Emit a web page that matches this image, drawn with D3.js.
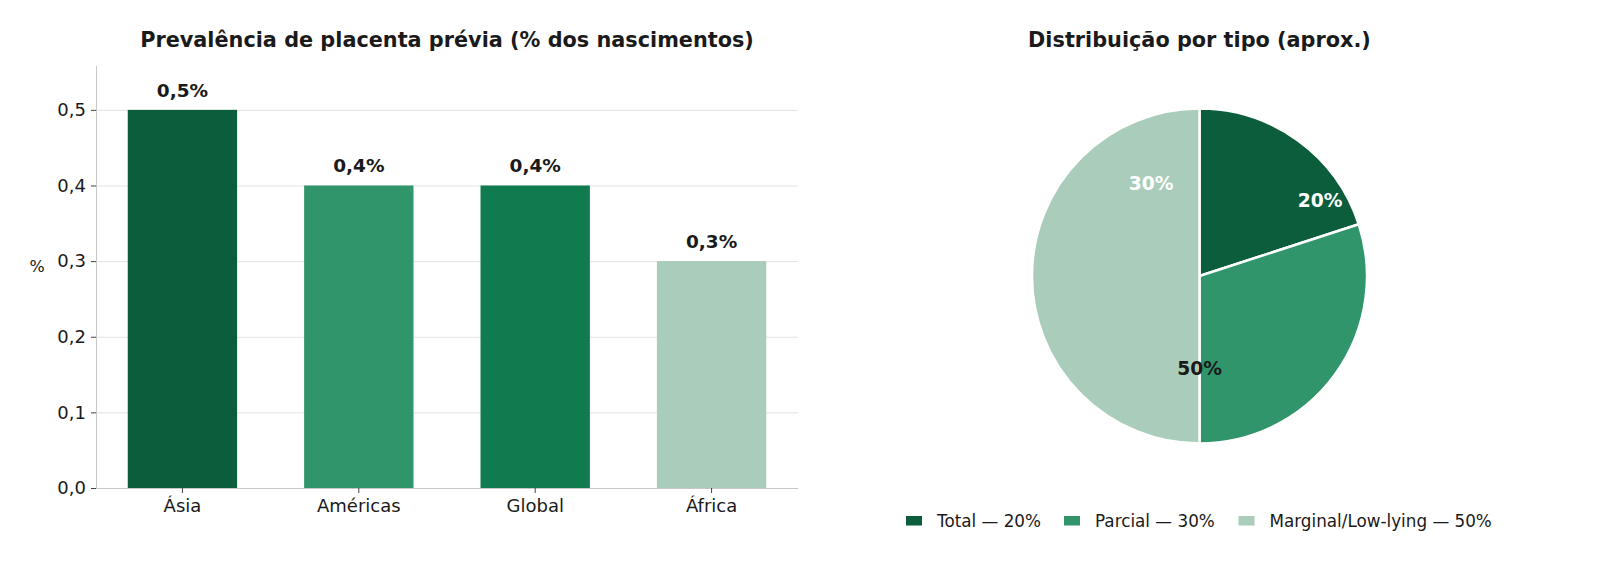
<!DOCTYPE html>
<html>
<head>
<meta charset="utf-8">
<title>Placenta prévia</title>
<script src="https://cdn.jsdelivr.net/npm/d3@7/dist/d3.min.js"></script>
<style>
  html, body { margin: 0; padding: 0; background: #fff; overflow: hidden; }
  svg { display: block; font-family: "DejaVu Sans", sans-serif; }
</style>
</head>
<body>
<svg id="chart" width="1600" height="568"></svg>
<script>
// data
var regions = ['Ásia', 'Américas', 'Global', 'África'];
var prevalence = [0.5, 0.4, 0.4, 0.3];
var regionColors = ['#0b5d3b', '#30956b', '#0f7b4e', '#a9cdba'];
var yTicks = [0, 0.1, 0.2, 0.3, 0.4, 0.5];

var types = ['Total', 'Parcial', 'Marginal/Low-lying'];
var typeShare = [20, 30, 50];
var typeColors = ['#0b5d3b', '#30956b', '#a9cdba'];
// label placement inside the pie: [angle deg from top, radius fraction]
var pieLabelPos = [[58, 0.85], [-27.5, 0.625], [180, 0.55]];
var pieLabelText = ['20%', '30%', '50%'];
var pieLabelColor = ['#fff', '#fff', '#1a1a1a'];

var svg = d3.select('#chart');
var comma = function(v, d) { return v.toFixed(d).replace('.', ','); };

// ---- bar chart ----
var plotL = 96, plotR = 798, plotT = 66, plotB = 488;

var x = d3.scaleBand()
  .domain(regions)
  .range([plotL, plotR])
  .paddingInner(0.38)
  .paddingOuter(0.18);

var y = d3.scaleLinear()
  .domain([0, 0.558])
  .range([plotB, plotT]);

// grid
svg.append('g').selectAll('line')
  .data(yTicks.slice(1))
  .enter().append('line')
  .attr('x1', plotL).attr('x2', plotR)
  .attr('y1', function(d) { return y(d) + 0.5; })
  .attr('y2', function(d) { return y(d) + 0.5; })
  .attr('stroke', '#e3e3e3').attr('stroke-width', 1);

svg.append('g').selectAll('rect')
  .data(prevalence)
  .enter().append('rect')
  .attr('x', function(d, i) { return x(regions[i]); })
  .attr('y', function(d) { return y(d); })
  .attr('width', x.bandwidth())
  .attr('height', function(d) { return plotB - y(d); })
  .attr('fill', function(d, i) { return regionColors[i]; });

svg.append('g').selectAll('text')
  .data(prevalence)
  .enter().append('text')
  .attr('x', function(d, i) { return x(regions[i]) + x.bandwidth() / 2; })
  .attr('y', function(d) { return y(d) - 13; })
  .attr('text-anchor', 'middle')
  .attr('font-size', 18.5).attr('font-weight', 'bold')
  .attr('fill', '#1a1a1a')
  .text(function(d) { return comma(d, 1) + '%'; });

var yAxis = svg.append('g')
  .attr('transform', 'translate(' + plotL + ',0)')
  .call(d3.axisLeft(y).tickValues(yTicks).tickSize(5).tickPadding(5)
    .tickFormat(function(d) { return comma(d, 1); }));
yAxis.select('.domain').attr('stroke', '#c8c8c8').attr('d', 'M0.5,' + plotT + 'V' + plotB);

var xAxis = svg.append('g')
  .attr('transform', 'translate(0,' + plotB + ')')
  .call(d3.axisBottom(x).tickSize(5).tickPadding(6));
xAxis.select('.domain').attr('stroke', '#c8c8c8').attr('d', 'M' + plotL + ',0.5H' + plotR);

svg.selectAll('.tick line').attr('stroke', '#444');
svg.selectAll('.tick text').attr('font-size', 18).attr('fill', '#1a1a1a')
  .attr('font-family', '"DejaVu Sans", sans-serif');

svg.append('text')
  .attr('x', 37).attr('y', 272)
  .attr('text-anchor', 'middle')
  .attr('font-size', 16).attr('fill', '#1a1a1a')
  .text('%');

svg.append('text')
  .attr('x', (plotL + plotR) / 2).attr('y', 46.5)
  .attr('text-anchor', 'middle')
  .attr('font-size', 20.8).attr('font-weight', 'bold').attr('fill', '#1a1a1a')
  .text('Prevalência de placenta prévia (% dos nascimentos)');

// ---- pie chart ----
var cx = 1199.5, cy = 276, r = 167.5;

var pie = d3.pie().sort(null).value(function(d) { return d; });
var arc = d3.arc().innerRadius(0).outerRadius(r);
var arcs = pie(typeShare);

var pg = svg.append('g').attr('transform', 'translate(' + cx + ',' + cy + ')');
pg.selectAll('path')
  .data(arcs)
  .enter().append('path')
  .attr('d', arc)
  .attr('fill', function(d, i) { return typeColors[i]; })
  .attr('stroke', '#fff').attr('stroke-width', 2.5)
  .attr('stroke-linejoin', 'round');

pg.selectAll('text')
  .data(pieLabelPos)
  .enter().append('text')
  .attr('x', function(d) { return Math.sin(d[0] * Math.PI / 180) * d[1] * r; })
  .attr('y', function(d) { return -Math.cos(d[0] * Math.PI / 180) * d[1] * r; })
  .attr('text-anchor', 'middle')
  .attr('dominant-baseline', 'central')
  .attr('font-size', 18.7).attr('font-weight', 'bold')
  .attr('fill', function(d, i) { return pieLabelColor[i]; })
  .text(function(d, i) { return pieLabelText[i]; });

svg.append('text')
  .attr('x', cx).attr('y', 46.5)
  .attr('text-anchor', 'middle')
  .attr('font-size', 20.8).attr('font-weight', 'bold').attr('fill', '#1a1a1a')
  .text('Distribuição por tipo (aprox.)');

// legend
var legendX = [906, 1064, 1238.5];
var lg = svg.append('g');
types.forEach(function(t, i) {
  lg.append('rect')
    .attr('x', legendX[i]).attr('y', 516)
    .attr('width', 16).attr('height', 9.5)
    .attr('fill', typeColors[i]);
  lg.append('text')
    .attr('x', legendX[i] + 31).attr('y', 526.5)
    .attr('font-size', 16.8).attr('fill', '#1a1a1a')
    .text(t + ' — ' + typeShare[i] + '%');
});
</script>
</body>
</html>
